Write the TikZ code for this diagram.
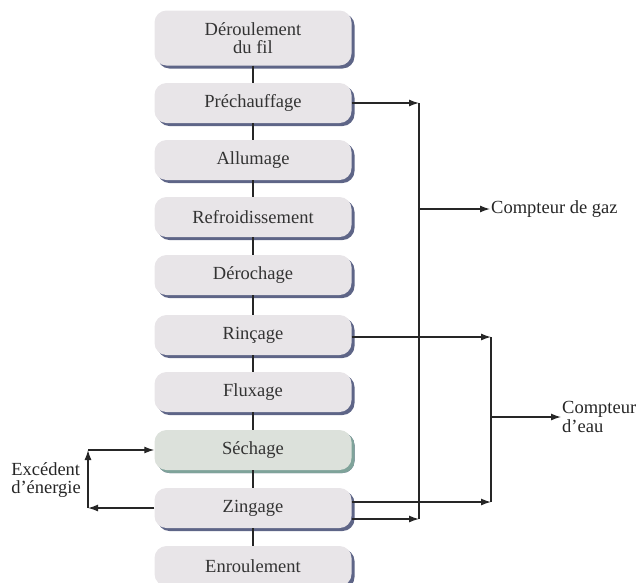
\documentclass[tikz,border=0pt]{standalone}
\usepackage{fontspec}
\setmainfont{Liberation Serif}
\usetikzlibrary{arrows.meta,shadows}
\definecolor{boxgray}{HTML}{E8E5E8}
\definecolor{shadowblue}{HTML}{5E6587}
\definecolor{boxgreen}{HTML}{DCE1DB}
\definecolor{shadowgreen}{HTML}{7FA39A}
\definecolor{linegray}{HTML}{262626}
\tikzset{stage/.style={
        rectangle, rounded corners=12pt, fill=boxgray,
        minimum width=197pt, minimum height=40pt, inner sep=2pt,
        align=center, text=black!80,
        font=\fontsize{18.5}{18.5}\selectfont,
        drop shadow={shadow xshift=3pt, shadow yshift=-3pt, fill=shadowblue, opacity=1}
    },
    drystage/.style={stage, fill=boxgreen,
        drop shadow={shadow xshift=3pt, shadow yshift=-3pt, fill=shadowgreen, opacity=1}
    },
    flow/.style={draw=linegray, line width=1.3pt},
    feed/.style={flow, -{Latex[length=10pt,width=7pt]}},
    outlabel/.style={font=\fontsize{18.5}{18.5}\selectfont, text=black!85, inner sep=1pt}
}

\begin{document}
\begin{tikzpicture}[x=1pt,y=-1pt]
      \useasboundingbox (0,0) rectangle (639,582);
      % stages
      \node[stage, minimum height=55pt] (deroul) at (253,38) {Déroulement\\du fil};
      \node[stage] (prech) at (253,103) {Préchauffage};
      \node[stage] (allum) at (253,160) {Allumage};
      \node[stage] (refroid) at (253,217) {Refroidissement};
      \node[stage] (deroch) at (253,275) {Dérochage};
      \node[stage] (rinc) at (253,335) {Rinçage};
      \node[stage] (flux) at (253,392) {Fluxage};
      \node[drystage] (sech) at (253,450) {Séchage};
      \node[stage] (zing) at (253,508) {Zingage};
      \node[stage] (enroul) at (253,566) {Enroulement};
      % line between stages
      \foreach \a/\b in {deroul/prech,prech/allum,allum/refroid,refroid/deroch,
                         deroch/rinc,rinc/flux,flux/sech,sech/zing,zing/enroul}
        \draw[flow] (\a) -- (\b);
      % gas
      \coordinate (gastop) at (419,103);
      \coordinate (gasbot) at (419,519);
      \coordinate (gasout) at (419,209);
      \node[outlabel, anchor=west] (gaz) at (490,209) {Compteur de gaz};
      \draw[feed] (prech.east) -- (gastop);
      \draw[feed] ([yshift=-11pt]zing.east) -- (gasbot);
      \draw[flow] (gastop) -- (gasbot);
      \draw[feed] (gasout) -- (gaz.west);
      % water
      \coordinate (eautop) at (491,337);
      \coordinate (eaubot) at (491,502);
      \coordinate (eauout) at (491,417);
      \node[outlabel, anchor=west, align=left] (eau) at (561,417) {Compteur\\d’eau};
      \draw[feed] ([yshift=-2pt]rinc.east) -- (eautop);
      \draw[feed] ([yshift=6pt]zing.east) -- (eaubot);
      \draw[flow] (eautop) -- (eaubot);
      \draw[feed] (eauout) -- (eau.west);
      % energy
      \coordinate (enbot) at (88,508);
      \coordinate (entop) at (88,450);
      \node[outlabel, anchor=east, align=left] (energie) at (82,480) {Excédent\\d’énergie};
      \draw[feed] (zing.west) -- (enbot);
      \draw[feed] (enbot) -- (entop);
      \draw[feed] (entop) -- (sech.west);
\end{tikzpicture}
\end{document}
